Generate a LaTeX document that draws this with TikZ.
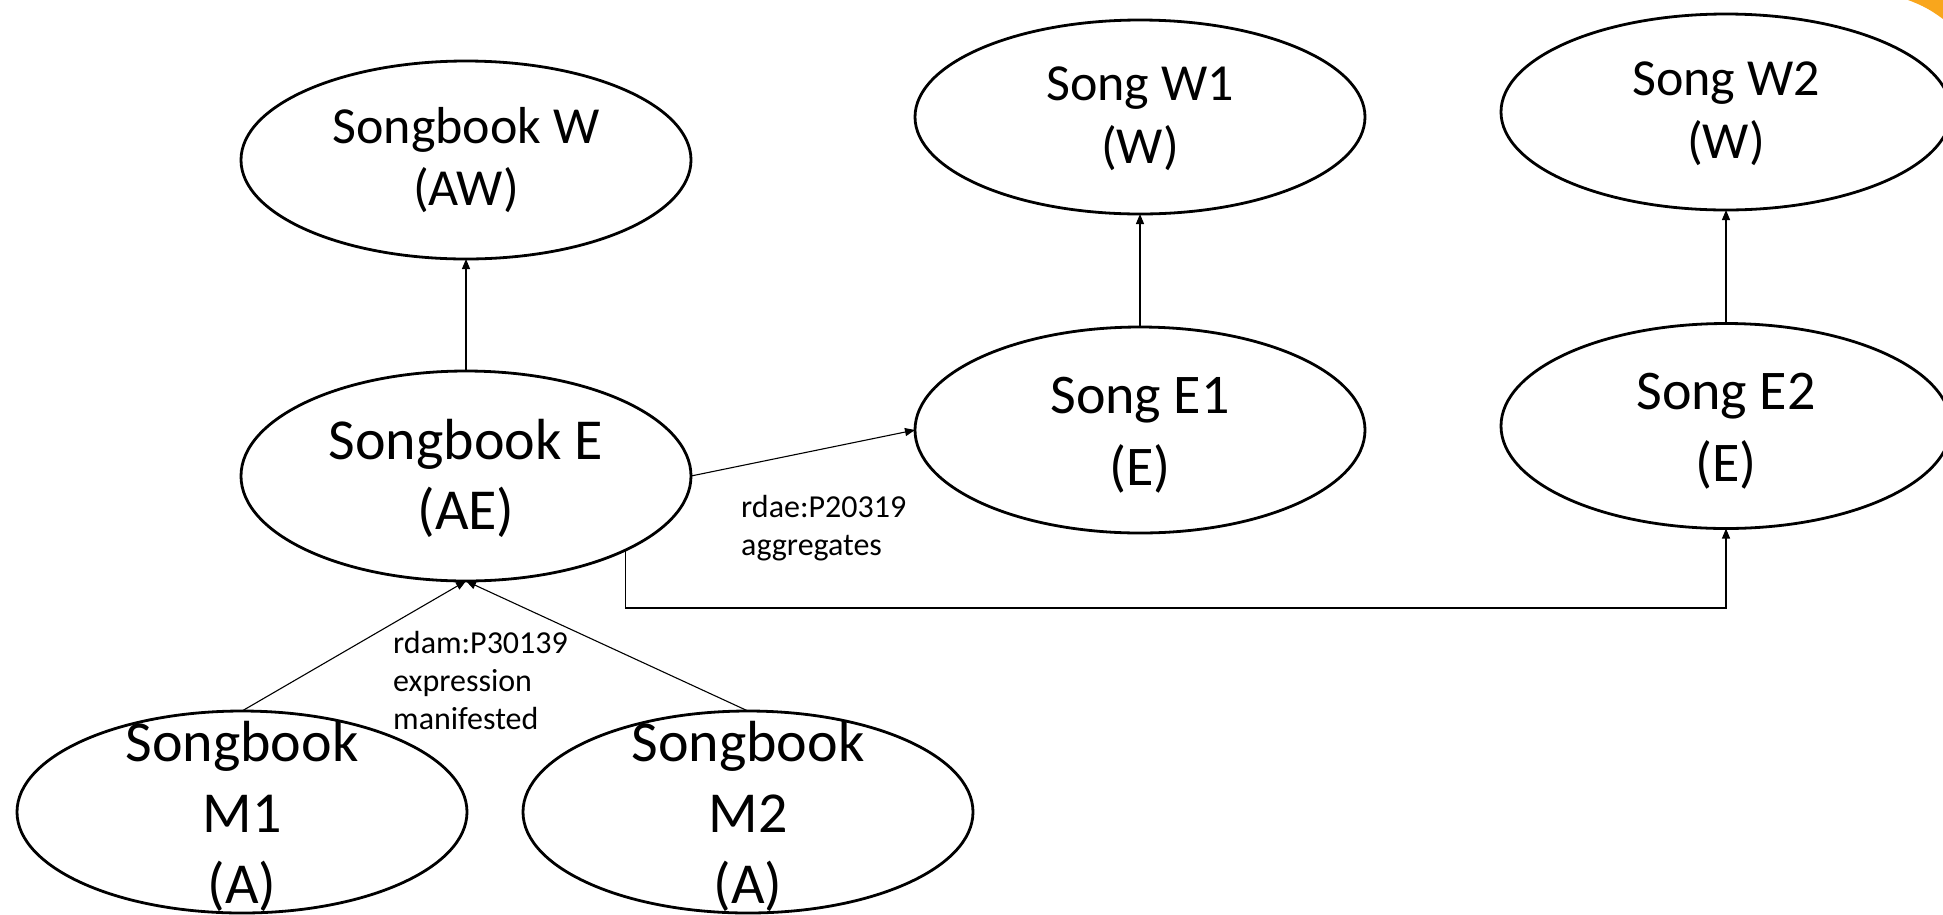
\documentclass[tikz,border=0pt]{standalone}
\usepackage{fontspec}
\setmainfont{Carlito}
\usetikzlibrary{shapes.geometric,arrows.meta}
\definecolor{cornerorange}{RGB}{249,166,28}
\begin{document}
\begin{tikzpicture}[x=1pt,y=-1pt,
  ell/.style={ellipse, draw, line width=2.8pt, inner sep=0pt, outer sep=0pt, minimum width=450pt},
  lbl/.style={align=center, inner sep=0pt},
  conn/.style={line width=1.1pt, -{Triangle[length=10pt,width=8pt]}},
  small/.style={align=left, inner sep=0pt, anchor=west, font=\fontsize{32}{38}\selectfont}]
\useasboundingbox (0,0) rectangle (1943,914);
\clip (0,0) rectangle (1943,914);
\fill[cornerorange] (1908,0) to[bend left=8] (1943,19) -- (1943,0) -- cycle;
% ellipses
\node[ell, minimum height=198pt] (sw) at (466,160) {};
\node[ell, minimum height=210pt] (se) at (466,476) {};
\node[ell, minimum height=194pt] (sw1) at (1140,117) {};
\node[ell, minimum height=206pt] (se1) at (1140,430) {};
\node[ell, minimum height=196pt] (sw2) at (1726,112) {};
\node[ell, minimum height=205pt] (se2) at (1726,426) {};
\node[ell, minimum height=202pt] (m1) at (242,812) {};
\node[ell, minimum height=202pt] (m2) at (748,812) {};
% texts
\node[lbl, font=\fontsize{52}{62}\selectfont] (tsw) at (sw.center) {Songbook W\\(AW)};
\node[lbl, font=\fontsize{58}{70}\selectfont] (tse) at ([yshift=-2pt]se.center) {Songbook E\\(AE)};
\node[lbl, font=\fontsize{52}{63}\selectfont] (tsw1) at ([yshift=-2pt]sw1.center) {Song W1\\(W)};
\node[lbl, font=\fontsize{56}{72}\selectfont] (tse1) at ([yshift=-5pt]se1.center) {Song E1\\(E)};
\node[lbl, font=\fontsize{52}{63}\selectfont] (tsw2) at ([yshift=-2pt]sw2.center) {Song W2\\(W)};
\node[lbl, font=\fontsize{56}{72}\selectfont] (tse2) at ([yshift=-5pt]se2.center) {Song E2\\(E)};
\node[lbl, font=\fontsize{58}{71}\selectfont] (tm1) at ([yshift=-4pt]m1.center) {Songbook\\M1\\(A)};
\node[lbl, font=\fontsize{58}{71}\selectfont] (tm2) at ([yshift=-4pt]m2.center) {Songbook\\M2\\(A)};
% edge labels
\node[small] (lagg) at (741,528) {rdae:P20319\\aggregates};
\node[small] (lman) at (393,680) {rdam:P30139\\expression\\manifested};
% connectors
\coordinate (corner) at (1726,608);
\draw[conn] (se.north) -- (sw.south);
\draw[conn] (se1.north) -- (sw1.south);
\draw[conn] (se2.north) -- (sw2.south);
\draw[conn] (se.east) -- (se1.west);
\draw[conn] (se.south east) |- (corner) -- (se2.south);
\draw[conn] (m1.north) -- (se.south);
\draw[conn] (m2.north) -- (se.south);
\end{tikzpicture}
\end{document}
